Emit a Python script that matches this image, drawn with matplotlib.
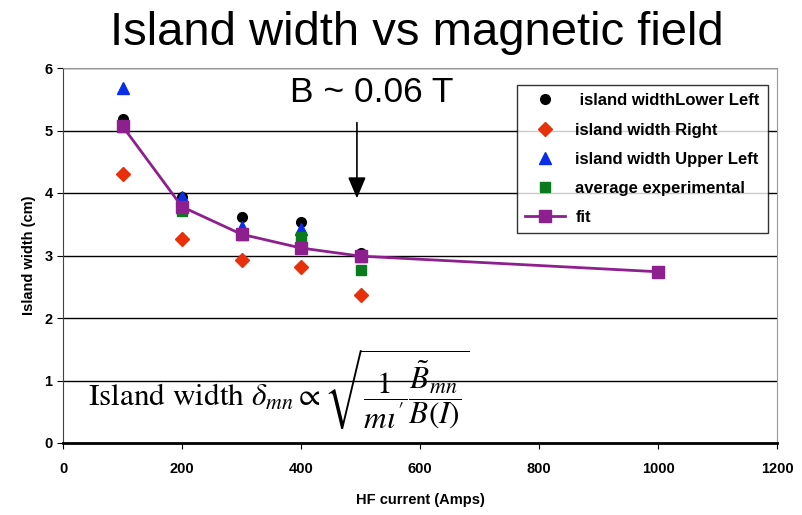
import matplotlib
matplotlib.use("Agg")
import matplotlib.pyplot as plt

current = [100, 200, 300, 400, 500]
lower_left = [5.18, 3.93, 3.62, 3.53, 3.04]
right = [4.31, 3.27, 2.93, 2.81, 2.37]
upper_left = [5.68, 3.93, 3.46, 3.42, 3.00]
average = [5.06, 3.71, 3.33, 3.30, 2.77]
fit_x = [100, 200, 300, 400, 500, 1000]
fit_y = [5.07, 3.78, 3.34, 3.12, 2.99, 2.74]

xticks = [0, 200, 400, 600, 800, 1000, 1200]
yticks = [0, 1, 2, 3, 4, 5, 6]

plt.rcParams['font.family'] = ['Liberation Sans', 'DejaVu Sans']
plt.rcParams['mathtext.fontset'] = 'stix'

fig = plt.figure(figsize=(8.02, 5.15), dpi=100)
ax = fig.add_axes([63/802, 1-443/515, (777-63)/802, (443-68)/515])

ax.set_xlim(0, 1200)
ax.set_ylim(0, 6)
for y in yticks[1:]:
    ax.axhline(y, color='black', lw=1.0, zorder=1)

ax.plot(current, lower_left, 'o', color='black', ms=7, label=' island widthLower Left', zorder=3)
ax.plot(current, right, 'D', color='#E8300A', ms=7, label='island width Right', zorder=3)
ax.plot(current, upper_left, '^', color='#0A2EE8', ms=8, label='island width Upper Left', zorder=3)
ax.plot(current, average, 's', color='#0A7A1E', ms=7, label='average experimental', zorder=3)
ax.plot(fit_x, fit_y, '-s', color='#8E1F8E', ms=8, lw=2, label='fit', zorder=4)

ax.set_xticks(xticks)
ax.set_yticks(yticks)
ax.tick_params(labelsize=10.5, length=4, direction='out')
for lab in ax.get_xticklabels() + ax.get_yticklabels():
    lab.set_fontweight('bold')
ax.tick_params(axis='x', pad=10)
ax.set_xlabel('HF current (Amps)', fontsize=10.5, fontweight='bold', labelpad=12)
ax.set_ylabel('Island width (cm)', fontsize=10.5, fontweight='bold', labelpad=6)

ax.spines['top'].set_color('#999999')
ax.spines['right'].set_color('#999999')
ax.spines['left'].set_color('#444444')
ax.spines['bottom'].set_linewidth(2)

leg = ax.legend(loc='upper right', bbox_to_anchor=((768-63)/714, (443-85)/375),
                borderaxespad=0,
                prop={'weight': 'bold', 'size': 12}, frameon=True, fancybox=False,
                edgecolor='black', handlelength=2.4, borderpad=0.5, labelspacing=0.85,
                handletextpad=0.6)
leg.get_frame().set_linewidth(1.0)

fig.text(0.52, 0.936, 'Island width vs magnetic field', fontsize=34, ha='center', va='center')

ax.annotate('', xy=(494, 3.87), xytext=(494, 5.17),
            arrowprops=dict(arrowstyle='-|>,head_length=1.3,head_width=0.55', color='black', lw=1.2))
ax.text(519, 5.6, 'B ~ 0.06 T', fontsize=25.5, ha='center', va='center')

ax.text(42, 0.86, r'Island width $\delta_{mn} \propto \sqrt{\dfrac{1}{m\iota^{\prime}}\dfrac{\tilde{B}_{mn}}{B(I)}}$',
        fontsize=22.5, family='STIXGeneral', ha='left', va='center')

fig.savefig('out.png', dpi=100)
